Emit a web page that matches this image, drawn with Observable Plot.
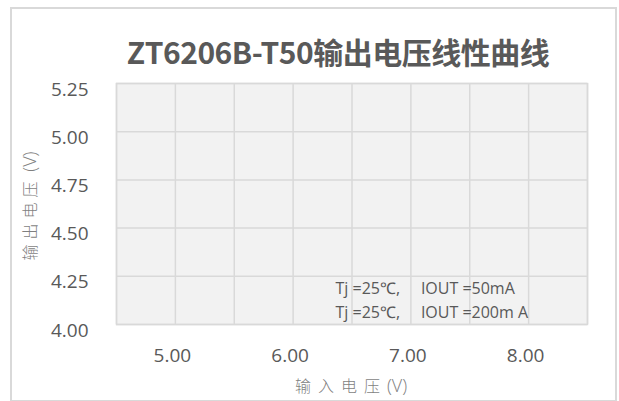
<!DOCTYPE html>
<html>
<head>
<meta charset="utf-8">
<script src="https://cdn.jsdelivr.net/npm/d3@7"></script>
<script src="https://cdn.jsdelivr.net/npm/@observablehq/plot@0.6"></script>
<style>
  body { margin: 0; background: #fff; }
  #wrap { position: relative; width: 619px; height: 401px; overflow: hidden; background: #fff; }
  #border { position: absolute; left: 10px; top: 7px; width: 603px; height: 391px; border: 2px solid #d9d9d9; }
  #title { position: absolute; left: 0; width: 676px; top: 29px; text-align: center;
           font-family: "Noto Sans CJK SC", sans-serif; font-weight: 700; font-size: 30px; color: #595959; white-space: nowrap; letter-spacing: -0.5px; }
  #ytitle { position: absolute; left: 29px; top: 206px; transform: translate(-50%, -50%) rotate(-90deg);
            font-family: "Noto Sans CJK SC", sans-serif; font-weight: 300; font-size: 16px; color: #7f7f7f; white-space: nowrap; }
  #ytitle .cjk { letter-spacing: 5px; }
  #xtitle { position: absolute; left: 351px; top: 385px; transform: translate(-50%, -50%);
            font-family: "Noto Sans CJK SC", sans-serif; font-weight: 300; font-size: 16px; color: #7f7f7f; white-space: nowrap; }
  #xtitle .cjk { letter-spacing: 7px; }
  .unit { font-family: "Open Sans", sans-serif; font-size: 18px; }
  #chart { position: absolute; left: 0; top: 0; }
</style>
</head>
<body>
<div id="wrap">
  <div id="border"></div>
  <div id="chart"></div>
  <div id="title"></div>
  <div id="ytitle"></div>
  <div id="xtitle"></div>
</div>
<script>
// ---- data ----
const chartTitle = "ZT6206B-T50输出电压线性曲线";
const xTitleText = "输入电压";
const yTitleText = "输出电压";
const axisUnit = "(V)";
const xGridTicks = [4.5, 5.0, 5.5, 6.0, 6.5, 7.0, 7.5, 8.0, 8.5];
const xTickLabels = [5.0, 6.0, 7.0, 8.0];
const yTicks = [4.00, 4.25, 4.50, 4.75, 5.00, 5.25];
const xDomain = [4.5, 8.5];
const yDomain = [4.0, 5.25];
const legendLines = ["Tj =25℃,     IOUT =50mA", "Tj =25℃,     IOUT =200m A"];

document.getElementById("title").textContent = chartTitle;
function fillTitle(el, cjk, unit) {
  const a = document.createElement("span"); a.className = "cjk"; a.textContent = cjk;
  const b = document.createElement("span"); b.className = "unit"; b.textContent = unit;
  el.appendChild(a); el.appendChild(b);
}
fillTitle(document.getElementById("xtitle"), xTitleText, axisUnit);
fillTitle(document.getElementById("ytitle"), yTitleText, " " + axisUnit);

const fmt = d3.format(".2f");
const chart = Plot.plot({
  width: 619,
  height: 401,
  marginLeft: 116,
  marginRight: 32,
  marginTop: 83,
  marginBottom: 77,
  x: { domain: xDomain },
  y: { domain: yDomain },
  style: { background: "transparent", fontFamily: "'Open Sans', sans-serif", color: "#595959" },
  marks: [
    Plot.frame({ fill: "#f2f2f2", stroke: null }),
    Plot.gridX(xGridTicks, { stroke: "#d9d9d9", strokeOpacity: 1, strokeWidth: 1.5 }),
    Plot.gridY(yTicks, { stroke: "#d9d9d9", strokeOpacity: 1, strokeWidth: 1.5 }),
    Plot.frame({ stroke: "#d9d9d9", strokeWidth: 1.5 }),
    Plot.axisX(xTickLabels, { tickSize: 0, tickPadding: 24, tickFormat: fmt, fontSize: 19, dx: -3, label: null, fill: "#595959" }),
    Plot.axisY(yTicks, { tickSize: 0, tickPadding: 28, tickFormat: fmt, fontSize: 19, dy: 6, label: null, fill: "#595959" }),
    Plot.text([legendLines.join("\n")], {
      text: d => d, frameAnchor: "bottom-left", textAnchor: "start", lineAnchor: "bottom",
      dx: 219, dy: -7, fontSize: 16, lineHeight: 1.5, fill: "#595959"
    })
  ]
});
document.getElementById("chart").appendChild(chart);
</script>
</body>
</html>
